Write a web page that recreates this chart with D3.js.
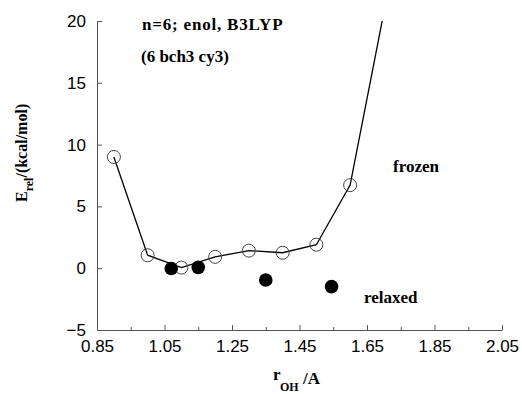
<!DOCTYPE html>
<html>
<head>
<meta charset="utf-8">
<script src="https://cdn.jsdelivr.net/npm/d3@7"></script>
<style>
  html, body { margin: 0; padding: 0; background: #fff; }
  svg { display: block; }
</style>
</head>
<body>
<svg id="chart" width="522" height="394"></svg>
<script>
// ---- data ----
const frozenX = [0.90, 1.00, 1.10, 1.20, 1.30, 1.40, 1.50, 1.60];
const frozenY = [9.0, 1.05, 0.05, 0.92, 1.42, 1.25, 1.9, 6.72];
// the frozen curve continues beyond the last computed point, out of the frame
const frozenTailX = [1.70];
const frozenTailY = [20.7];
const relaxedX = [1.07, 1.15, 1.35, 1.545];
const relaxedY = [-0.02, 0.07, -0.95, -1.49];
const xTicks = [0.85, 1.05, 1.25, 1.45, 1.65, 1.85, 2.05];
const xMinorTicks = [0.95, 1.15, 1.35, 1.55, 1.75, 1.95];
const yTicks = [-5, 0, 5, 10, 15, 20];

// ---- layout ----
const svg = d3.select("#chart");
const L = 97, R = 502, T = 21, B = 330;
const x = d3.scaleLinear().domain([0.85, 2.05]).range([L, R]);
const y = d3.scaleLinear().domain([-5, 20]).range([B, T]);

const serif = "'Liberation Serif', 'Times New Roman', serif";
const sans = "'Liberation Sans', Arial, Helvetica, sans-serif";
const axisColor = "#555";

// clip
svg.append("clipPath").attr("id", "plotclip")
  .append("rect").attr("x", L).attr("y", T).attr("width", R - L).attr("height", B - T);

// x axis minor
svg.append("g").attr("transform", `translate(0,${B})`)
  .call(d3.axisBottom(x).tickValues(xMinorTicks).tickSizeInner(-3).tickSizeOuter(0).tickFormat(""))
  .call(g => g.select(".domain").remove())
  .call(g => g.selectAll("line").attr("stroke", axisColor));

// x axis major
const xa = svg.append("g").attr("transform", `translate(0,${B})`)
  .call(d3.axisBottom(x).tickValues(xTicks).tickSizeInner(-5).tickSizeOuter(0)
        .tickPadding(10).tickFormat(d3.format(".2f")));
xa.select(".domain").attr("stroke", axisColor);
xa.selectAll("line").attr("stroke", axisColor);
xa.selectAll("text").attr("font-family", sans).attr("font-size", 17).attr("fill", "#000");

// y axis
const ya = svg.append("g").attr("transform", `translate(${L},0)`)
  .call(d3.axisLeft(y).tickValues(yTicks).tickSizeInner(-5).tickSizeOuter(0).tickPadding(11));
ya.select(".domain").attr("stroke", axisColor);
ya.selectAll("line").attr("stroke", axisColor);
ya.selectAll("text").attr("font-family", sans).attr("font-size", 17).attr("fill", "#000");

// frozen line
const linePts = frozenX.map((v, i) => [v, frozenY[i]])
  .concat(frozenTailX.map((v, i) => [v, frozenTailY[i]]));
svg.append("path")
  .attr("clip-path", "url(#plotclip)")
  .attr("d", d3.line().x(d => x(d[0])).y(d => y(d[1]))(linePts))
  .attr("fill", "none").attr("stroke", "#000").attr("stroke-width", 1.3);

// frozen markers (open circles)
svg.append("g").selectAll("circle")
  .data(frozenX.map((v, i) => [v, frozenY[i]]))
  .join("circle")
  .attr("cx", d => x(d[0])).attr("cy", d => y(d[1])).attr("r", 6.5)
  .attr("fill", "none").attr("stroke", "#444").attr("stroke-width", 1);

// relaxed markers (filled circles)
svg.append("g").selectAll("circle")
  .data(relaxedX.map((v, i) => [v, relaxedY[i]]))
  .join("circle")
  .attr("cx", d => x(d[0])).attr("cy", d => y(d[1])).attr("r", 6.8)
  .attr("fill", "#000");

// annotations
function label(txt, px, py, ls) {
  svg.append("text").attr("x", px).attr("y", py)
    .attr("font-family", serif).attr("font-weight", "bold").attr("font-size", 17)
    .attr("letter-spacing", ls || 0)
    .attr("fill", "#000").text(txt);
}
label("n=6; enol, B3LYP", 142, 30, 0.8);
label("(6 bch3 cy3)", 141, 62);
label("frozen", 393, 172);
label("relaxed", 364, 303);

// x axis title: r_OH /A
const xt = svg.append("g").attr("font-family", serif).attr("font-weight", "bold").attr("fill", "#000");
xt.append("text").attr("x", 273).attr("y", 380).attr("font-size", 17).text("r");
xt.append("text").attr("x", 280).attr("y", 391).attr("font-size", 12).text("OH");
xt.append("text").attr("x", 303).attr("y", 384).attr("font-size", 17).text("/A");

// y axis title: E_rel /(kcal/mol)
const yt = svg.append("text")
  .attr("transform", "translate(27,202) rotate(-90)")
  .attr("font-family", serif).attr("font-weight", "bold").attr("font-size", 16).attr("fill", "#000");
yt.append("tspan").text("E");
yt.append("tspan").attr("dy", 6).attr("font-size", 12).text("rel");
yt.append("tspan").attr("dy", -6).text("/(kcal/mol)");
</script>
</body>
</html>
